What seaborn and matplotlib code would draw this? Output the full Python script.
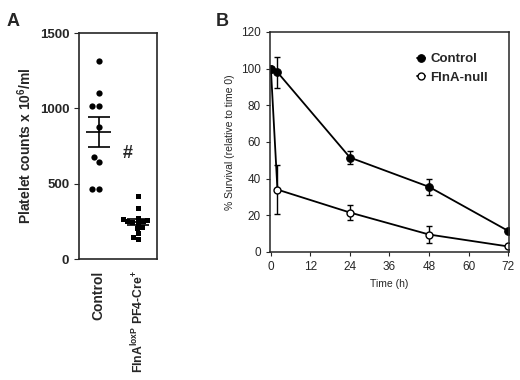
from matplotlib import pyplot as plt
import seaborn as sns
import pandas as pd
import numpy as np

sns.set_style("ticks")
plt.rcParams['font.family'] = ['Liberation Sans', 'DejaVu Sans']

# Panel A data: platelet counts (x 10^6/ml)
groups = ["Control", "FlnA$^{\\mathregular{loxP}}$ PF4-Cre$^{\\mathregular{+}}$"]
control_counts = [1312, 1104, 1018, 1018, 876, 677, 646, 465, 465]
null_counts = [418, 337, 275, 268, 262, 255, 250, 245, 240, 215, 205, 172, 150, 132]

# Panel B data: % survival relative to time 0
time_h = [0, 2, 24, 48, 72]
control_surv = [100, 98, 51.5, 35.5, 11.5]
control_err = [0, 8.5, 3.5, 4.5, 0]
null_surv = [100, 34, 21.5, 9.5, 3]
null_err = [0, 13.5, 4, 4.7, 0]

counts = pd.DataFrame({
    "group": [groups[0]] * len(control_counts) + [groups[1]] * len(null_counts),
    "count": control_counts + null_counts,
})

fig = plt.figure(figsize=(5.2, 3.8), dpi=100)
ax_a = fig.add_axes([0.152, 0.318, 0.150, 0.595])
ax_b = fig.add_axes([0.519, 0.337, 0.460, 0.579])

# ---- Panel A ----
sns.swarmplot(data=counts[counts.group == groups[0]], x="group", y="count",
              order=groups, color="black", marker="o", size=4.5, ax=ax_a)
sns.swarmplot(data=counts[counts.group == groups[1]], x="group", y="count",
              order=groups, color="black", marker="s", size=3.6, ax=ax_a)

for i, vals in enumerate([control_counts, null_counts]):
    m = np.mean(vals)
    sem = np.std(vals, ddof=1) / np.sqrt(len(vals))
    ax_a.hlines(m, i - 0.33, i + 0.33, color="black", lw=1.2, zorder=3)
    ax_a.errorbar(i, m, yerr=sem, fmt="none", ecolor="black", elinewidth=1.2,
                  capsize=8, capthick=1.2, zorder=3)

ax_a.text(0.75, 700, "#", ha="center", va="center", fontsize=13, fontweight="bold")
ax_a.set_xlim(-0.5, 1.5)
ax_a.set_ylim(0, 1500)
ax_a.set_yticks([0, 500, 1000, 1500])
ax_a.set_xlabel("")
ax_a.set_ylabel("Platelet counts x 10$^{\\mathregular{6}}$/ml", fontsize=10, fontweight="bold")
ax_a.tick_params(axis="x", labelrotation=90, labelsize=10, length=0, pad=8)
ax_a.tick_params(axis="y", labelsize=9.5)
for lab in ax_a.get_xticklabels() + ax_a.get_yticklabels():
    lab.set_fontweight("bold")
ax_a.get_xticklabels()[1].set_fontsize(8.8)
for s in ax_a.spines.values():
    s.set_linewidth(1.2)

# ---- Panel B ----
surv = pd.DataFrame({"t": time_h, "control": control_surv, "null": null_surv})
sns.lineplot(data=surv, x="t", y="null", color="black", lw=1.3, marker="o",
             markersize=5, markerfacecolor="white", markeredgecolor="black",
             markeredgewidth=1, label="FlnA-null", ax=ax_b)
sns.lineplot(data=surv, x="t", y="control", color="black", lw=1.3, marker="o",
             markersize=5.5, markerfacecolor="black", markeredgecolor="black",
             label="Control", ax=ax_b)
ax_b.errorbar(time_h, control_surv, yerr=control_err, fmt="none", ecolor="black",
              elinewidth=1, capsize=2.5, zorder=1)
ax_b.errorbar(time_h, null_surv, yerr=null_err, fmt="none", ecolor="black",
              elinewidth=1, capsize=2.5, zorder=1)

handles, labels = ax_b.get_legend_handles_labels()
leg = ax_b.legend(handles[::-1], labels[::-1], loc="upper right", frameon=False,
                  handlelength=0.6, handletextpad=0.4, borderaxespad=1.2,
                  prop={"weight": "bold", "size": 9.5})

ax_b.set_xlim(-0.3, 72.3)
ax_b.set_ylim(0, 120)
ax_b.set_xticks(range(0, 73, 12))
ax_b.set_yticks(range(0, 121, 20))
ax_b.set_xlabel("Time (h)", fontsize=7.5)
ax_b.set_ylabel("% Survival (relative to time 0)", fontsize=7.5)
ax_b.tick_params(labelsize=8.5, length=3)
for s in ax_b.spines.values():
    s.set_linewidth(1.1)

fig.text(0.012, 0.965, "A", fontsize=13, fontweight="bold", va="top")
fig.text(0.415, 0.965, "B", fontsize=13, fontweight="bold", va="top")

plt.savefig("out.png", dpi=100)
